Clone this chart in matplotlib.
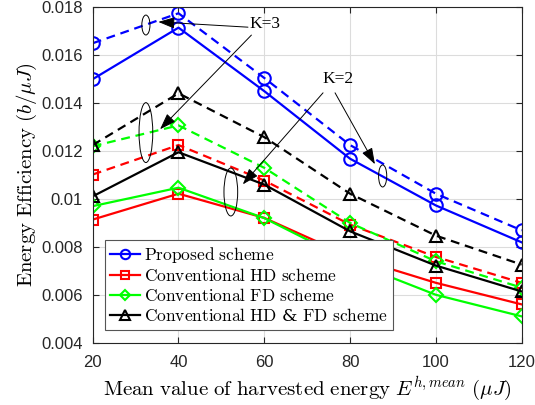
import matplotlib
matplotlib.use("Agg")
import matplotlib.pyplot as plt
from matplotlib.patches import Ellipse

plt.rcParams['mathtext.fontset'] = 'cm'
plt.rcParams['font.family'] = ['Liberation Sans', 'DejaVu Sans']

energy = [20, 40, 60, 80, 100, 120]
prop_k3 = [0.0165, 0.01775, 0.01505, 0.01225, 0.01022, 0.00869]
prop_k2 = [0.0150, 0.01715, 0.0145, 0.01168, 0.00973, 0.00819]
hd_k3 = [0.01102, 0.01225, 0.01077, 0.00893, 0.00758, 0.0065]
hd_k2 = [0.00914, 0.01022, 0.00921, 0.0076, 0.0065, 0.0056]
fd_k3 = [0.0122, 0.01307, 0.0113, 0.0090, 0.0074, 0.0063]
fd_k2 = [0.0097, 0.01047, 0.0092, 0.0074, 0.0060, 0.0051]
hdfd_k3 = [0.01225, 0.01441, 0.01258, 0.01022, 0.00847, 0.00726]
hdfd_k2 = [0.01011, 0.01195, 0.0106, 0.00865, 0.00722, 0.00614]

labels = [r"$\mathrm{Proposed\ scheme}$", r"$\mathrm{Conventional\ HD\ scheme}$",
          r"$\mathrm{Conventional\ FD\ scheme}$",
          r"$\mathrm{Conventional\ HD}$ & $\mathrm{FD\ scheme}$"]

fig = plt.figure(figsize=(5.35, 4.05), dpi=100)
ax = fig.add_axes([0.1733, 0.1538, 0.8017, 0.8282])

lw = 1.6
ms = 9
mew = 1.5
dash = (0, (4.0, 2.6))

series = [
    (prop_k2, prop_k3, (0, 0, 1), 'o'),
    (hd_k2, hd_k3, (1, 0, 0), 's'),
    (fd_k2, fd_k3, (0, 1, 0), 'D'),
    (hdfd_k2, hdfd_k3, (0, 0, 0), '^'),
]
handles = []
for (k2, k3, c, m), lab in zip(series, labels):
    msz = ms * 0.75 if m in ('s', 'D') else ms
    h, = ax.plot(energy, k2, color=c, lw=lw, marker=m, ms=msz, mfc='none',
                 mec=c, mew=mew, label=lab)
    ax.plot(energy, k3, color=c, lw=lw, ls=dash, marker=m, ms=msz, mfc='none',
            mec=c, mew=mew)
    handles.append(h)

ax.set_xlim(20, 120)
ax.set_ylim(0.004, 0.018)
ax.set_xticks(energy)
ax.set_yticks([0.004, 0.006, 0.008, 0.01, 0.012, 0.014, 0.016, 0.018])
ax.set_yticklabels(['0.004', '0.006', '0.008', '0.01', '0.012', '0.014', '0.016', '0.018'])
ax.tick_params(direction='in', labelsize=12, length=4, top=True, right=True,
               colors='#262626')
ax.tick_params(axis='x', pad=8.5)
ax.tick_params(axis='y', pad=7)
ax.grid(True, color='#dcdcdc', lw=0.8)
ax.set_axisbelow(True)
for s in ax.spines.values():
    s.set_linewidth(0.8)
    s.set_color('#262626')

ax.set_xlabel(r"$\mathrm{Mean\ value\ of\ harvested\ energy}\ E^{h,mean}\ (\mu J)$",
              fontsize=15, labelpad=4)
ax.set_ylabel(r"$\mathrm{Energy\ Efficiency}\ (b/\mu J)$", fontsize=15, labelpad=2)

leg = ax.legend(handles=handles, loc='lower left', bbox_to_anchor=(0.029, 0.038),
                prop={'family': 'DejaVu Serif', 'size': 12.5}, frameon=True,
                fancybox=False, edgecolor='#555555', borderaxespad=0,
                handlelength=1.7, labelspacing=0.17, borderpad=0.3,
                handletextpad=0.25, framealpha=1, markerscale=0.75)
leg.get_frame().set_linewidth(0.8)
leg.set_zorder(10)

# ellipses
for (cx, cy, w, h) in [(32.4, 0.01726, 1.9, 0.00083),
                       (32.4, 0.01277, 3.2, 0.0025),
                       (52.2, 0.01029, 3.2, 0.0020),
                       (87.6, 0.01096, 1.9, 0.00092)]:
    ax.add_patch(Ellipse((cx, cy), w, h, fill=False, ec='black', lw=0.7, zorder=5))

ap = dict(arrowstyle='-|>,head_length=1.0,head_width=0.35', color='black', lw=0.7,
          shrinkA=0, shrinkB=0)
ax.text(60.2, 0.01729, "K=3", fontsize=12.5, family='Liberation Serif',
        ha='center', va='center')
ax.annotate("", xy=(35.3, 0.01739), xytext=(56.2, 0.01717), arrowprops=ap)
ax.annotate("", xy=(35.7, 0.01291), xytext=(57.0, 0.01684), arrowprops=ap)
ax.text(77.1, 0.01499, "K=2", fontsize=12.5, family='Liberation Serif',
        ha='center', va='center')
ax.annotate("", xy=(55.0, 0.01061), xytext=(73.7, 0.01443), arrowprops=ap)
ax.annotate("", xy=(85.8, 0.01145), xytext=(76.5, 0.01443), arrowprops=ap)

fig.savefig("out.png", dpi=100)
